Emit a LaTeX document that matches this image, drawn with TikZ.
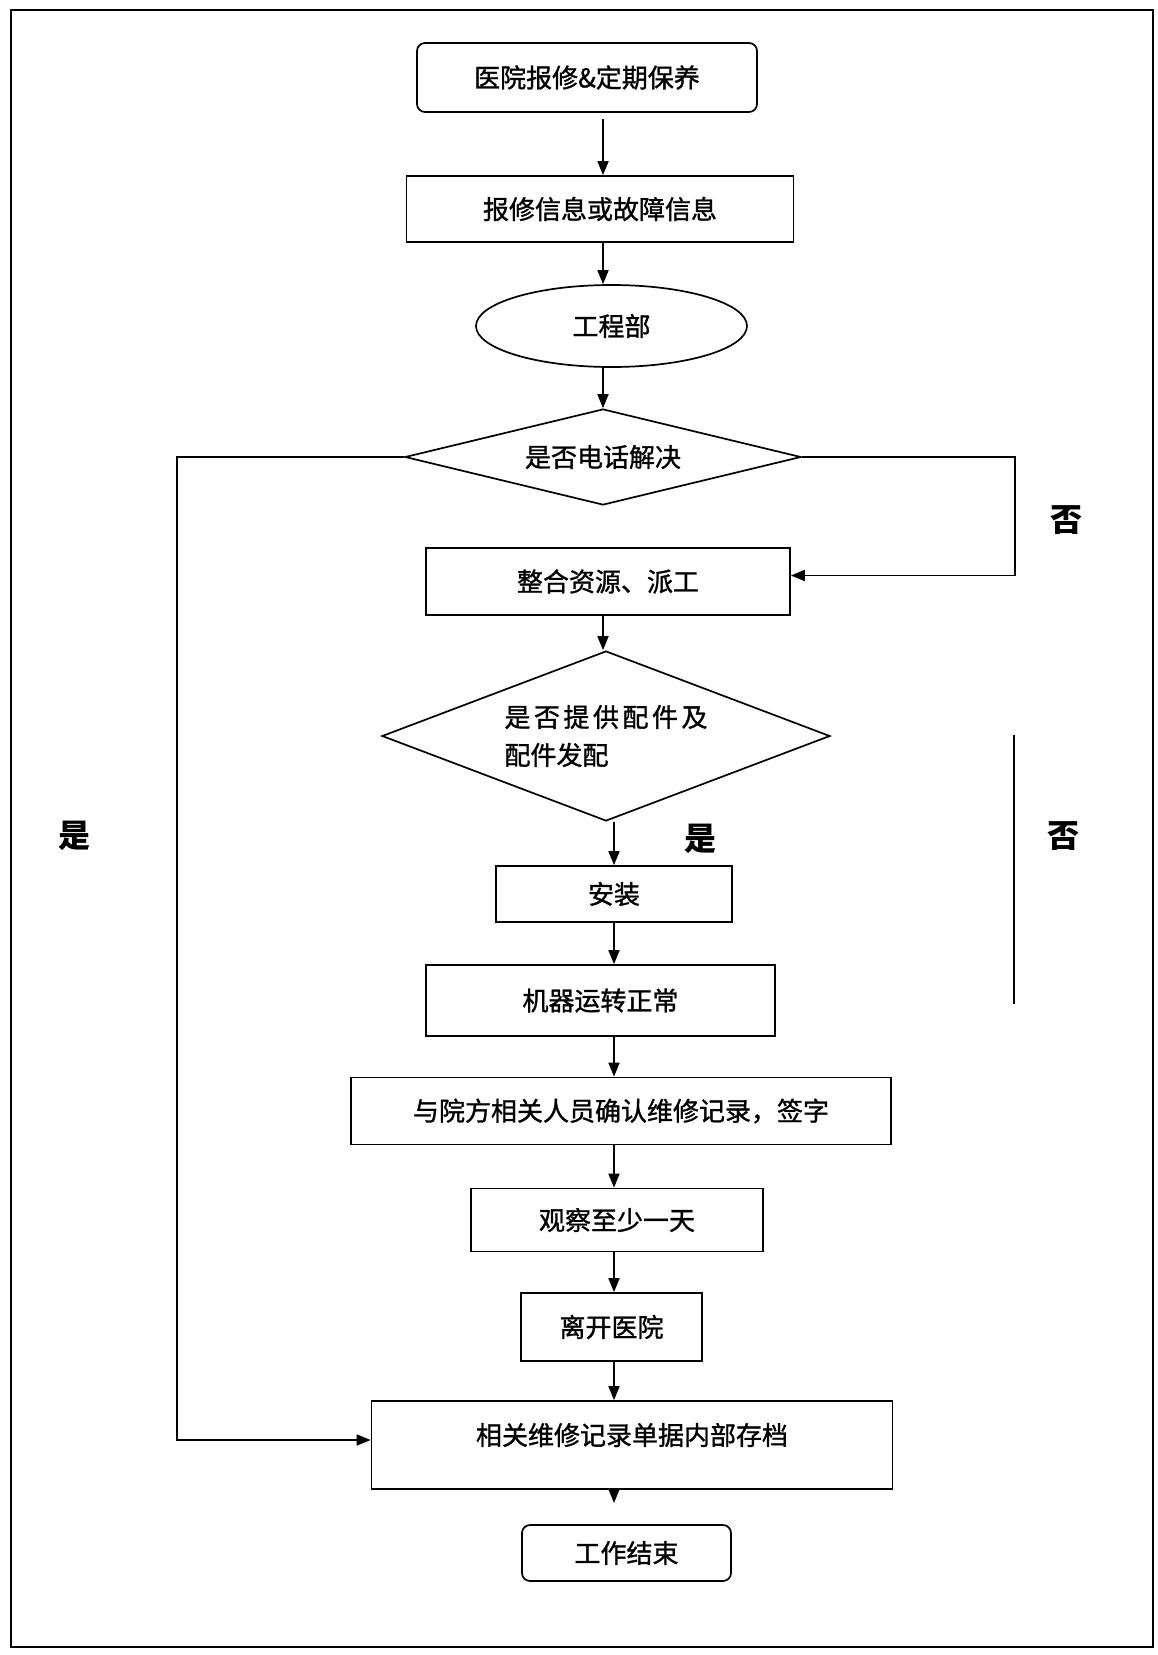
\documentclass[tikz,border=0pt]{standalone}
\usepackage{fontspec}
\setmainfont{Noto Sans CJK SC}
\newfontfamily\boxfont{Noto Sans CJK SC}[FakeBold=1.2]
\usetikzlibrary{shapes.geometric,arrows.meta}
\newcommand{\ls}{\hspace{3.5pt}}
\tikzset{
  txt/.style={font=\boxfont\fontsize{26}{30}\selectfont},
  box/.style={draw, line width=1.7pt, rectangle, inner sep=0pt, txt},
  rbox/.style={box, rounded corners=8pt},
  oval/.style={draw, line width=1.7pt, ellipse, inner sep=0pt, txt},
  dia/.style={draw, line width=1.7pt, diamond, inner sep=0pt, txt},
  lbl/.style={font=\fontsize{32}{36}\selectfont\bfseries, inner sep=0pt},
  conn/.style={line width=1.7pt},
  arr/.style={conn, -{Triangle[length=14pt,width=11pt]}}
}
\begin{document}
\begin{tikzpicture}[x=1pt,y=-1pt]
\useasboundingbox (0,0) rectangle (1157,1655);
% outer frame
\draw[line width=1.5pt] (11,10) rectangle (1153,1647);

% nodes
\node[rbox, minimum width=340pt, minimum height=69pt] (b1) at (587,77.5) {医院报修\&定期保养};
\node[box, minimum width=387pt, minimum height=66pt] (b2) at (600,209) {报修信息或故障信息};
\node[oval, minimum width=271pt, minimum height=82pt] (e1) at (611.5,326) {工程部};
\node[dia, aspect=4.1, minimum width=396pt, minimum height=96pt] (d1) at (603,457) {是否电话解决};
\node[box, minimum width=364pt, minimum height=67pt] (b3) at (608,581.5) {整合资源、派工};
\node[dia, aspect=2.6, minimum width=448pt, minimum height=170pt, align=left,
      font=\boxfont\fontsize{26}{38}\selectfont] (d2) at (606,736)
      {是\ls 否\ls 提\ls 供\ls 配\ls 件\ls 及\\配件发配};
\node[box, minimum width=236pt, minimum height=56pt] (b4) at (614,894) {安装};
\node[box, minimum width=349pt, minimum height=71pt] (b5) at (600.5,1000.5) {机器运转正常};
\node[box, minimum width=540pt, minimum height=67pt] (b6) at (621,1111) {与院方相关人员确认维修记录，签字};
\node[box, minimum width=292pt, minimum height=63pt] (b7) at (617,1220) {观察至少一天};
\node[box, minimum width=181pt, minimum height=68pt] (b8) at (611.5,1327) {离开医院};
\node[box, minimum width=521pt, minimum height=88pt,
      label={[txt, inner sep=0pt, yshift=10pt]center:相关维修记录单据内部存档}] (b9) at (632,1445) {};
\node[rbox, minimum width=209pt, minimum height=56pt] (b10) at (626.5,1553) {工作结束};

% labels
\node[lbl] (no1) at (1066,520) {否};
\node[lbl] (no2) at (1063,836) {否};
\node[lbl] (yes1) at (700,839) {是};
\node[lbl] (yes2) at (74.5,836) {是};

% helper coordinates
\coordinate (c1) at (603,0);
\coordinate (c2) at (614,0);
\coordinate (lft) at (177,454);
\coordinate (rgt) at (1015,450);
\coordinate (n1) at (1014,735);
\coordinate (n2) at (1014,1004);
\coordinate (tipend) at (614,1503);

% main spine
\draw[arr, shorten <=6pt] (b1.south -| c1) -- (b2.north -| c1);
\draw[arr] (b2.south -| c1) -- (e1.north -| c1);
\draw[arr] (e1.south -| c1) -- (d1.north -| c1);
\draw[arr] (b3.south -| c1) -- (d2.north -| c1);
\draw[arr] (d2.south -| c2) -- (b4.north -| c2);
\draw[arr] (b4.south -| c2) -- (b5.north -| c2);
\draw[arr] (b5.south -| c2) -- (b6.north -| c2);
\draw[arr] (b6.south -| c2) -- (b7.north -| c2);
\draw[arr] (b7.south -| c2) -- (b8.north -| c2);
\draw[arr] (b8.south -| c2) -- (b9.north -| c2);
\draw[arr] (b9.south -| c2) -- (tipend);

% branches
\draw[arr] (d1.west) -- (d1.west -| lft) |- ([yshift=5pt]b9.west);
\draw[arr] (d1.east) -- (d1.east -| rgt) |- ([yshift=6pt]b3.east);
\draw[conn] (n1) -- (n2);
\end{tikzpicture}
\end{document}
